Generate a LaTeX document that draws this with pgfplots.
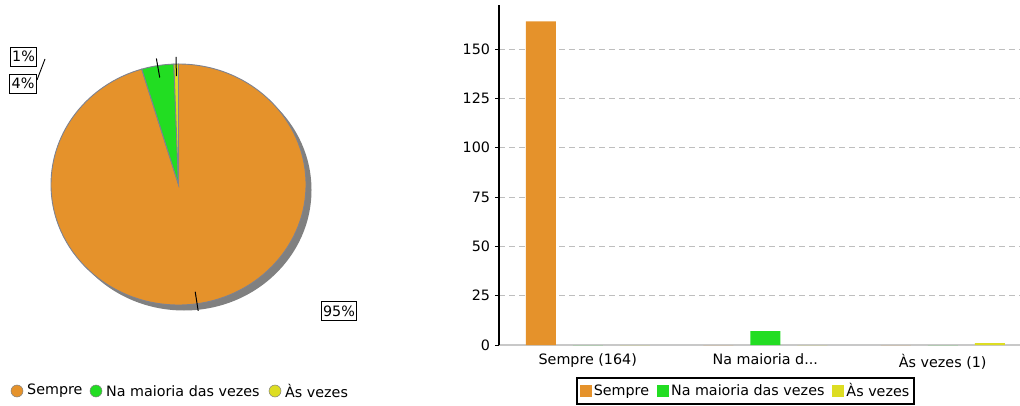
\documentclass[border=0pt]{standalone}
\usepackage{fontspec}
\setmainfont{DejaVu Sans}
\usepackage{pgfplots}
\pgfplotsset{compat=1.18}
\definecolor{cOr}{RGB}{229,146,43}
\definecolor{cGr}{RGB}{34,221,34}
\definecolor{cYe}{RGB}{221,221,34}
\definecolor{cEdge}{RGB}{125,130,145}
\definecolor{cShadow}{RGB}{128,128,128}
\definecolor{cGrid}{RGB}{190,190,190}
\definecolor{cXline}{RGB}{200,200,200}
\pgfplotsset{sqlegend/.style={legend image code/.code={\fill[##1] (0pt,-6pt) rectangle (12pt,6pt);}}}
\newcommand{\fs}{\fontsize{14.3}{17}\selectfont}
\begin{document}
\fs
\begin{tikzpicture}[x=1pt,y=1pt,
  lbl/.style={draw=black, line width=0.9pt, inner xsep=2pt, inner ysep=0pt, minimum height=19pt, fill=white}]
\useasboundingbox (0,0) rectangle (1020,405);
% ---------- pie data ----------
\def\vA{164}\def\vB{7}\def\vC{1}
\pgfmathsetmacro{\tot}{\vA+\vB+\vC}
\pgfmathsetmacro{\aA}{90}
\pgfmathsetmacro{\aB}{\aA-360*(\vA/\tot)}
\pgfmathsetmacro{\aC}{\aB-360*(\vB/\tot)}
\pgfmathsetmacro{\aD}{\aC-360*(\vC/\tot)}
\def\cx{178.5}\def\cy{220.5}\def\rx{127.5}\def\ry{120.5}
\fill[cShadow] (\cx+5.5,\cy-5.5) ellipse[x radius=\rx, y radius=\ry];
\filldraw[fill=cOr, draw=cEdge, line width=0.9pt] (\cx,\cy) -- ({\cx+\rx*cos(\aA)},{\cy+\ry*sin(\aA)}) arc[start angle=\aA, end angle=\aB, x radius=\rx, y radius=\ry] -- cycle;
\filldraw[fill=cGr, draw=cEdge, line width=0.9pt] (\cx,\cy) -- ({\cx+\rx*cos(\aB)},{\cy+\ry*sin(\aB)}) arc[start angle=\aB, end angle=\aC, x radius=\rx, y radius=\ry] -- cycle;
\filldraw[fill=cYe, draw=cEdge, line width=0.9pt] (\cx,\cy) -- ({\cx+\rx*cos(\aC)},{\cy+\ry*sin(\aC)}) arc[start angle=\aC, end angle=\aD, x radius=\rx, y radius=\ry] -- cycle;
% leader lines
\foreach \p/\q in {\aA/\aB,\aB/\aC,\aC/\aD}{
  \pgfmathsetmacro{\m}{(\p+\q)/2}
  \draw[black, line width=1pt] ({\cx+0.9*\rx*cos(\m)},{\cy+0.9*\ry*sin(\m)}) -- ({\cx+1.06*\rx*cos(\m)},{\cy+1.06*\ry*sin(\m)});
}
\node[lbl] at (23.5,348.5) {1\%};
\node[lbl] at (23,321.5) {4\%};
\node[lbl] at (339,94) {95\%};
\draw[black, line width=0.9pt] (37,325) -- (45,346);
% pie legend
\filldraw[fill=cOr, draw=gray, line width=0.5pt] (17,14) circle (6);
\node[anchor=west, inner sep=0pt] at (27,14) {Sempre};
\filldraw[fill=cGr, draw=gray, line width=0.5pt] (96,14) circle (6);
\node[anchor=west, inner sep=0pt] at (106,14) {Na maioria das vezes};
\filldraw[fill=cYe, draw=gray, line width=0.5pt] (275,14) circle (6);
\node[anchor=west, inner sep=0pt] at (285,14) {Às vezes};
% ---------- bar chart ----------
\begin{axis}[
  at={(499pt,60pt)}, anchor=south west,
  scale only axis, width=532.5pt, height=340pt,
  xmin=-0.5, xmax=2.5, ymin=0, ymax=172.3,
  axis x line=bottom, axis y line=left,
  x axis line style={-, draw=cXline, line width=1.5pt},
  y axis line style={-, draw=black, line width=2pt},
  xtick={0,1,2},
  xticklabels={{Sempre (164)}, {Na maioria d.{}.{}.}, {Às vezes (1)}},
  xtick style={draw=none},
  ytick={0,25,50,75,100,125,150},
  ytick style={black, line width=1pt},
  tick align=outside, major tick length=4pt,
  ymajorgrids, grid style={cGrid, dash pattern=on 6pt off 4pt, line width=0.8pt},
  tick label style={font=\fs},
  /pgf/number format/assume math mode=true,
  legend style={at={(0.463,-0.1353)}, anchor=center, legend columns=3,
    draw=black, line width=2pt, font=\fs,
    inner xsep=3pt, inner ysep=3pt,
    /tikz/every odd column/.append style={column sep=0pt},
    /tikz/every even column/.append style={column sep=6pt}},
]
\addplot[ybar, fill=cOr, draw=none, bar width=30pt, bar shift=-47pt, sqlegend] coordinates {(0,164) (1,0) (2,0)};
\addlegendentry{Sempre}
\addplot[ybar, fill=cGr, draw=none, bar width=30pt, bar shift=0pt, sqlegend] coordinates {(0,0) (1,7) (2,0)};
\addlegendentry{Na maioria das vezes}
\addplot[ybar, fill=cYe, draw=none, bar width=30pt, bar shift=47pt, sqlegend] coordinates {(0,0) (1,0) (2,1)};
\addlegendentry{Às vezes}
\end{axis}
\end{tikzpicture}
\end{document}
